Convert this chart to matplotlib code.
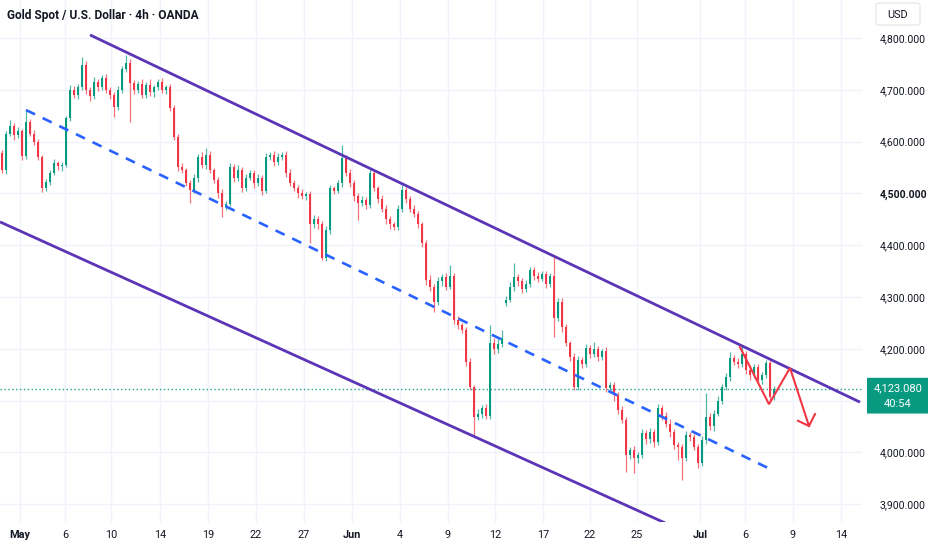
import matplotlib
matplotlib.use("Agg")
import matplotlib.pyplot as plt
import matplotlib.transforms as mtransforms
from matplotlib.patches import FancyBboxPatch

# ---------------- data ----------------
closes = [
    4545, 4615, 4630, 4612, 4620, 4572, 4638, 4615, 4600, 4570,
    4510, 4522, 4540, 4558, 4552, 4555, 4645, 4700, 4690, 4705,
    4748, 4700, 4688, 4715, 4705, 4722, 4700, 4690, 4667, 4700,
    4740, 4752, 4713, 4700, 4712, 4690, 4710, 4695, 4705, 4715,
    4700, 4705, 4665, 4609, 4551, 4545, 4520, 4507, 4530, 4570,
    4555, 4575, 4545, 4526, 4500, 4474, 4480, 4551, 4530, 4545,
    4510, 4530, 4540, 4520, 4530, 4505, 4570, 4575, 4560, 4570,
    4575, 4540, 4520, 4510, 4500, 4495, 4498, 4440, 4450, 4440,
    4375, 4430, 4510, 4505, 4520, 4568, 4539, 4520, 4495, 4481,
    4487, 4478, 4539, 4510, 4490, 4470, 4450, 4440, 4435, 4470,
    4507, 4490, 4470, 4460, 4440, 4404, 4333, 4320, 4290, 4330,
    4338, 4320, 4340, 4256, 4245, 4236, 4175, 4126, 4068, 4075,
    4085, 4070, 4211, 4200, 4210, 4220, 4295, 4320, 4338, 4331,
    4315, 4325, 4352, 4340, 4335, 4345, 4325, 4340, 4260, 4290,
    4242, 4211, 4185, 4126, 4178, 4170, 4201, 4190, 4200, 4185,
    4195, 4125, 4130, 4110, 4082, 4063, 3995, 4005, 3990, 3995,
    4037, 4025, 4040, 4020, 4086, 4070, 4055, 4040, 4015, 4010,
    3990, 4034, 4030, 4010, 3980, 4024, 4069, 4050, 4075, 4100,
    4126, 4146, 4182, 4175, 4170, 4190, 4160, 4150, 4165, 4140,
    4150, 4173, 4107, 4123.08,
]
upper_wick = [
    6, 5, 12, 6, 8, 5, 23, 6, 8, 5,
    5, 6, 5, 8, 5, 6, 5, 10, 8, 6,
    15, 8, 6, 10, 5, 6, 8, 5, 6, 8,
    6, 15, 8, 6, 5, 8, 6, 10, 5, 6,
    8, 5, 6, 5, 6, 8, 5, 6, 8, 6,
    10, 13, 6, 5, 6, 8, 6, 8, 6, 10,
    6, 8, 6, 5, 8, 6, 8, 5, 6, 8,
    5, 6, 8, 5, 6, 8, 5, 6, 8, 6,
    6, 8, 6, 5, 6, 25, 6, 8, 6, 5,
    8, 6, 8, 6, 5, 6, 8, 6, 5, 8,
    9, 6, 5, 8, 6, 5, 6, 10, 6, 8,
    6, 8, 22, 6, 8, 5, 6, 8, 5, 8,
    6, 8, 35, 10, 8, 16, 6, 8, 27, 6,
    6, 8, 6, 5, 8, 6, 5, 6, 37, 8,
    8, 6, 5, 6, 8, 6, 8, 6, 14, 6,
    5, 8, 6, 5, 6, 8, 5, 6, 8, 6,
    8, 6, 8, 5, 8, 6, 8, 10, 6, 5,
    6, 8, 6, 5, 6, 8, 46, 8, 6, 8,
    6, 8, 12, 6, 8, 17, 6, 8, 5, 6,
    6, 5, 6, 5,
]
lower_wick = [
    6, 8, 5, 8, 5, 7, 6, 5, 6, 5,
    8, 5, 6, 5, 6, 8, 4, 6, 5, 8,
    6, 8, 10, 6, 8, 5, 6, 8, 19, 6,
    6, 5, 75, 8, 6, 6, 5, 6, 8, 5,
    6, 8, 5, 6, 8, 6, 5, 26, 6, 8,
    6, 8, 5, 6, 8, 19, 6, 5, 8, 6,
    8, 6, 5, 10, 6, 8, 5, 6, 8, 5,
    6, 8, 5, 6, 8, 6, 8, 36, 6, 8,
    4, 6, 8, 6, 5, 8, 6, 8, 10, 32,
    6, 8, 6, 5, 8, 6, 10, 8, 6, 5,
    6, 8, 6, 5, 6, 8, 10, 8, 19, 6,
    8, 6, 5, 8, 6, 5, 8, 6, 38, 6,
    8, 6, 5, 10, 8, 6, 6, 5, 8, 10,
    8, 6, 5, 8, 6, 5, 8, 6, 37, 6,
    10, 6, 8, 5, 6, 8, 6, 8, 6, 8,
    6, 8, 6, 10, 8, 6, 33, 8, 30, 10,
    6, 8, 6, 10, 5, 8, 6, 10, 8, 25,
    43, 6, 8, 6, 10, 6, 8, 6, 8, 5,
    6, 5, 8, 6, 8, 6, 8, 10, 6, 8,
    8, 6, 6, 5,
]
first_open = 4578
gap_opens = {126: 4288}
last_price = 4123.08
countdown = "40:54"

price_levels = [3900, 4000, 4100, 4200, 4300, 4400, 4500, 4600, 4700, 4800]
price_labels = ["3,900.000", "4,000.000", "", "4,200.000", "4,300.000",
                "4,400.000", "4,500.000", "4,600.000", "4,700.000", "4,800.000"]
bold_price_label = "4,500.000"
date_labels = ["May", "6", "10", "14", "19", "22", "27", "Jun", "4", "9",
               "12", "17", "22", "25", "Jul", "6", "9", "14"]
month_labels = {"May", "Jun", "Jul"}
date_pos = [4.5, 15.75, 27.25, 39.5, 51.5, 63.5, 75.5, 87.5, 99.5, 111.5,
            123.25, 135.25, 147, 158.75, 174.5, 185.75, 197.75, 209.75]

upper_channel = ([22, 214.5], [4806, 4097])
lower_channel = ([-0.5, 170], [4445, 3849])
mid_line = ([6, 192], [4661, 3968])
projection = ([184.5, 191.75, 197, 201.75], [4203, 4093, 4163, 4051])
arrow_head = ([199, 201.75, 203.25], [4061, 4051, 4074])

title = "Gold Spot / U.S. Dollar \u00b7 4h \u00b7 OANDA"

# ---------------- style ----------------
GREEN = "#089981"
RED = "#f23645"
PURPLE = "#5b35b5"
BLUE = "#2962ff"
TXT = "#131722"
GRID = "#f0f3fa"
plt.rcParams["font.family"] = ["Roboto", "DejaVu Sans"]

W, H = 932, 550
fig = plt.figure(figsize=(W / 100, H / 100), dpi=100)
fig.patch.set_facecolor("white")
ax = fig.add_axes([0, 28 / H, 862 / W, 522 / H])
ax.set_facecolor("white")
ax.set_xlim(-0.5, 215)
ax.set_ylim(3865.6, 4873.4)

# grid
for p in price_levels:
    ax.axhline(p, color=GRID, lw=1.0, zorder=0)
for xp in date_pos:
    ax.axvline(xp, color=GRID, lw=1.0, zorder=0)

# candles
opens = []
prev = first_open
for i, c in enumerate(closes):
    o = gap_opens.get(i, prev if i > 0 else first_open)
    opens.append(o)
    prev = c

for i in range(len(closes)):
    o, c = opens[i], closes[i]
    col = GREEN if c >= o else RED
    top, bot = max(o, c), min(o, c)
    hi, lo = top + upper_wick[i], bot - lower_wick[i]
    ax.vlines(i, lo, hi, color=col, lw=0.9, alpha=0.7, zorder=2)
    ax.bar(i, max(top - bot, 2.0), bottom=bot, width=0.62, color=col,
           edgecolor=col, linewidth=0, zorder=3)

# channel lines
ax.plot(*upper_channel, color=PURPLE, lw=2.0, solid_capstyle="butt", zorder=4)
ax.plot(*lower_channel, color=PURPLE, lw=2.0, solid_capstyle="butt", zorder=4)
ax.plot(*mid_line, color=BLUE, lw=1.9, linestyle=(0, (3.8, 3.2)), zorder=4)

# projection
ax.plot(*projection, color=RED, lw=1.5, zorder=5, solid_joinstyle="miter")
ax.plot(*arrow_head, color=RED, lw=1.5, zorder=5)

# current price line
ax.axhline(last_price, color=GREEN, lw=1.0, linestyle=(0, (1, 1.8)),
           alpha=0.9, zorder=1)

# axes formatting
for s in ax.spines.values():
    s.set_visible(False)
ax.yaxis.tick_right()
ax.set_yticks(price_levels)
ax.set_yticklabels(price_labels)
ax.tick_params(axis="y", length=0, pad=13, labelsize=7.6, labelcolor=TXT)
for lab in ax.get_yticklabels():
    if lab.get_text() == bold_price_label:
        lab.set_fontweight("bold")
ax.set_xticks(date_pos)
ax.set_xticklabels(date_labels)
ax.tick_params(axis="x", length=0, pad=6, labelsize=7.8, labelcolor=TXT)
for lab in ax.get_xticklabels():
    if lab.get_text() in month_labels:
        lab.set_fontweight("bold")

# price badge
bt = mtransforms.blended_transform_factory(ax.transAxes, ax.transData)
badge = FancyBboxPatch((867 / 862, 4075), 61 / 862, 69,
                       boxstyle="round,pad=0,rounding_size=0.002",
                       transform=bt, facecolor=GREEN, edgecolor="none",
                       clip_on=False, zorder=6)
ax.add_patch(badge)
ax.text(898 / 862, last_price + 1, f"{last_price:,.3f}", transform=bt,
        color="white", fontsize=8.0, ha="center", va="center",
        clip_on=False, zorder=7)
ax.text(898 / 862, 4093, countdown, transform=bt, color="white",
        fontsize=8.0, ha="center", va="center", clip_on=False, zorder=7)

# USD box
usd = FancyBboxPatch((876 / W, 1 - 25 / H), 44 / W, 22 / H,
                     boxstyle="round,pad=0,rounding_size=0.004",
                     transform=fig.transFigure, facecolor="white",
                     edgecolor="#e0e3eb", lw=0.8)
fig.patches.append(usd)
fig.text(898 / W, 1 - 14.5 / H, "USD", ha="center", va="center",
         fontsize=7.8, color=TXT)

# title
fig.text(7 / W, 1 - 15 / H, title, ha="left", va="center", fontsize=8.6,
         fontweight="bold", color=TXT)

fig.savefig("out.png", dpi=100, facecolor="white")
